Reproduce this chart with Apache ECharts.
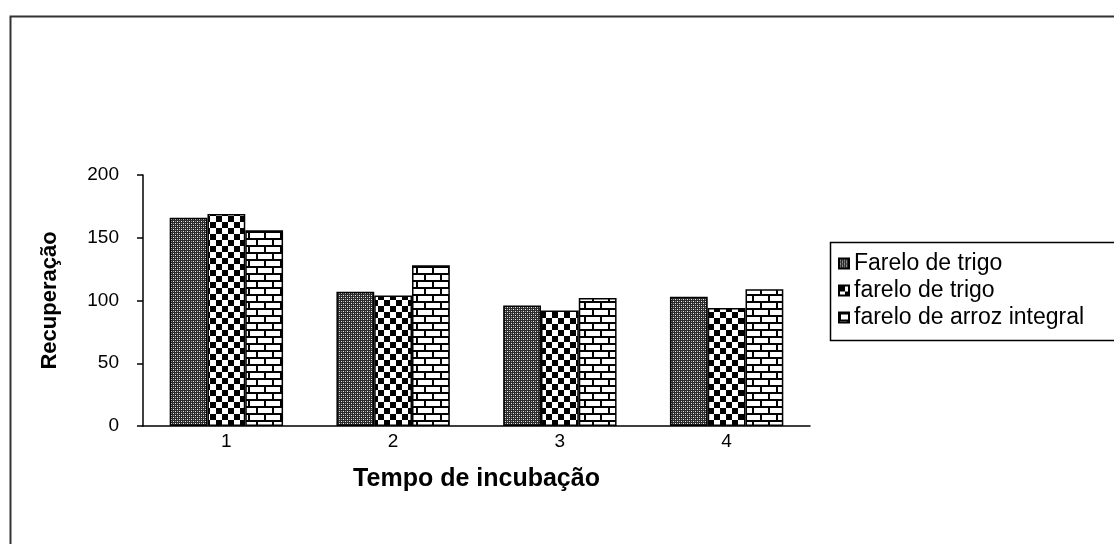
<!DOCTYPE html>
<html>
<head>
<meta charset="utf-8">
<script src="https://cdn.jsdelivr.net/npm/echarts@6/dist/echarts.min.js"></script>
<style>
  html, body { margin: 0; padding: 0; background: #fff; }
  #main { width: 1114px; height: 544px; }
</style>
</head>
<body>
<div id="main"></div>
<script>
// data
var categories = ['1', '2', '3', '4'];
var seriesNames = ['Farelo de trigo', 'farelo de trigo', 'farelo de arroz integral'];
var farelo1 = [166, 107, 96, 103];
var farelo2 = [169, 104, 92, 94];
var arroz = [156, 128, 102, 109];
var yTicks = [0, 50, 100, 150, 200];

// fill patterns (excel style hatching)
function makeCanvas(w, h, draw) {
    var c = document.createElement('canvas');
    c.width = w; c.height = h;
    var ctx = c.getContext('2d');
    draw(ctx);
    return c;
}

var dotPattern = makeCanvas(4, 4, function (ctx) {
    ctx.fillStyle = '#2b2b2b';
    ctx.fillRect(0, 0, 4, 4);
    ctx.fillStyle = '#eee';
    ctx.fillRect(1, 1, 1, 1);
    ctx.fillRect(3, 3, 1, 1);
    ctx.fillStyle = '#999';
    ctx.fillRect(1, 3, 1, 1);
    ctx.fillRect(3, 1, 1, 1);
});

var checkPattern = makeCanvas(12, 12, function (ctx) {
    ctx.fillStyle = '#fff';
    ctx.fillRect(0, 0, 12, 12);
    ctx.fillStyle = '#000';
    ctx.fillRect(0, 0, 6, 6);
    ctx.fillRect(6, 6, 6, 6);
});

var brickPattern = makeCanvas(16, 14, function (ctx) {
    ctx.fillStyle = '#fff';
    ctx.fillRect(0, 0, 16, 14);
    ctx.fillStyle = '#000';
    ctx.fillRect(0, 0, 16, 2);
    ctx.fillRect(0, 7, 16, 2);
    ctx.fillRect(0, 0, 2, 7);
    ctx.fillRect(8, 7, 2, 7);
});

var patterns = [dotPattern, checkPattern, brickPattern];
var allData = [farelo1, farelo2, arroz];

var myChart = echarts.init(document.getElementById('main'));

var series = allData.map(function (d, i) {
    return {
        name: seriesNames[i],
        type: 'bar',
        data: d,
        barGap: '0%',
        barCategoryGap: '32%',
        itemStyle: {
            color: { image: patterns[i], repetition: 'repeat' },
            borderColor: '#000',
            borderWidth: 1.5
        }
    };
});

var font = 'Liberation Sans, Arial, sans-serif';

var option = {
    animation: false,
    backgroundColor: '#fff',
    textStyle: { fontFamily: font },
    grid: { left: 143, right: 304, top: 175, bottom: 118 },
    legend: {
        orient: 'vertical',
        left: 833,
        top: 247,
        itemWidth: 10,
        itemHeight: 10,
        itemGap: 4,
        icon: 'rect',
        data: seriesNames,
        textStyle: { fontSize: 23, lineHeight: 23, color: '#000', fontFamily: font, padding: [0, 0, 0, 0] }
    },
    xAxis: {
        type: 'category',
        data: categories,
        name: 'Tempo de incubação',
        nameLocation: 'middle',
        nameGap: 41,
        nameTextStyle: { fontSize: 25, fontWeight: 'bold', color: '#000', fontFamily: font },
        axisLine: { lineStyle: { color: '#000', width: 1.5 } },
        axisTick: { length: 6, lineStyle: { color: '#000', width: 1.5 } },
        axisLabel: { fontSize: 19, color: '#000', margin: 6 }
    },
    yAxis: {
        type: 'value',
        min: yTicks[0],
        max: yTicks[yTicks.length - 1],
        interval: 50,
        name: 'Recuperação',
        nameLocation: 'middle',
        nameGap: 82,
        nameTextStyle: { fontSize: 22, fontWeight: 'bold', color: '#000', fontFamily: font },
        axisLine: { show: true, lineStyle: { color: '#000', width: 1.5 } },
        axisTick: { show: true, length: 6, lineStyle: { color: '#000', width: 1.5 } },
        axisLabel: { fontSize: 19, color: '#000', margin: 24 },
        splitLine: { show: false }
    },
    graphic: [
        {
            type: 'rect',
            left: 8, top: 14,
            shape: { width: 1200, height: 600 },
            style: { fill: 'none', stroke: '#333', lineWidth: 2 },
            silent: true
        },
        {
            type: 'rect',
            left: 828, top: 240,
            shape: { width: 400, height: 98 },
            style: { fill: 'none', stroke: '#000', lineWidth: 1.5 },
            silent: true
        }
    ],
    series: series
};

myChart.setOption(option, true);
</script>
</body>
</html>
